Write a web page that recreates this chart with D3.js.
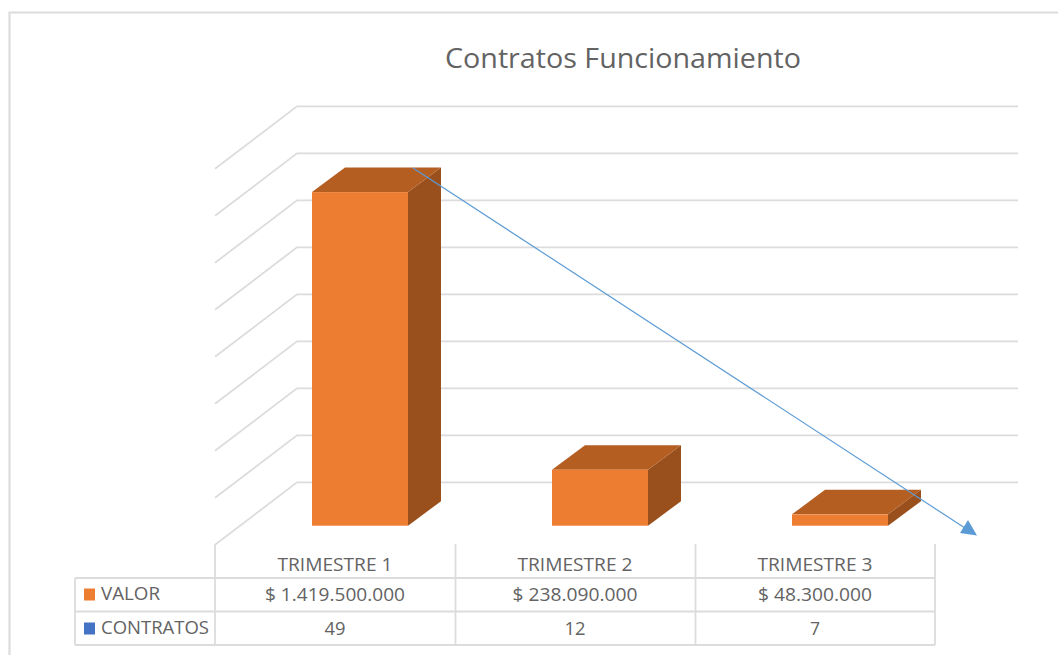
<!DOCTYPE html>
<html><head><meta charset="utf-8">
<script src="https://cdnjs.cloudflare.com/ajax/libs/d3/7.8.5/d3.min.js"></script>
<style>html,body{margin:0;padding:0;background:#fff}svg{display:block}text{font-family:"Open Sans",Lato,sans-serif;fill:#636363}</style>
</head><body><svg id="c" width="1058" height="655"></svg>
<script>
const chartTitle = "Contratos Funcionamiento";
const categories = ["TRIMESTRE 1","TRIMESTRE 2","TRIMESTRE 3"];
const valor = [1419500000,238090000,48300000];
const valorLabels = ["$ 1.419.500.000","$ 238.090.000","$ 48.300.000"];
const contratos = [49,12,7];
const gridTicks = [0,200,400,600,800,1000,1200,1400,1600].map(d=>d*1e6);
const seriesNames = ["VALOR","CONTRATOS"];
const seriesColors = ["#ed7d31","#4472c4"];

const svg = d3.select("#c");
const grid="#dcdcdc";
const depthX=33, depthY=24.5;
const yFront = d3.scaleLinear().domain([0,1600e6]).range([525.7,149.7]);
const yBack = v => yFront(v)-43.4;
const xFront = d3.scaleBand().domain(categories).range([240,960]).paddingInner(0.6).paddingOuter(0.3);
const xTable = d3.scaleBand().domain(categories).range([215,935]);

svg.append("path").attr("d","M1058,12.5H9.5V655").attr("fill","none").attr("stroke",grid).attr("stroke-width",2.2);

svg.selectAll("path.g").data(gridTicks).join("path").attr("class","g")
  .attr("fill","none").attr("stroke",grid).attr("stroke-width",1.8)
  .attr("d",d=>`M215,${yBack(d)+62.5}L297,${yBack(d)}H1018`);

const bars = svg.selectAll("g.b").data(categories).join("g").attr("class","b");
const fc = d3.color(seriesColors[0]);
bars.each(function(c,i){
  const g=d3.select(this), x0=xFront(c), w=xFront.bandwidth(), y0=yFront(0), y1=yFront(valor[i]);
  g.append("path").attr("fill","#9a501d").attr("d",`M${x0+w},${y1}l${depthX},${-depthY}V${y0-depthY}l${-depthX},${depthY}Z`);
  g.append("path").attr("fill","#b45e22").attr("d",`M${x0},${y1}l${depthX},${-depthY}h${w}l${-depthX},${depthY}Z`);
  g.append("rect").attr("x",x0).attr("y",y1).attr("width",w).attr("height",y0-y1).attr("fill",fc);
});

const rows=[578,611.5,645];
const tg=svg.append("g").attr("stroke",grid).attr("stroke-width",1.8).attr("fill","none");
rows.forEach(y=>tg.append("line").attr("x1",75).attr("x2",935).attr("y1",y).attr("y2",y));
tg.append("line").attr("x1",75).attr("x2",75).attr("y1",578).attr("y2",645);
[215,455.5,695.5,935].forEach(x=>tg.append("line").attr("x1",x).attr("x2",x).attr("y1",544).attr("y2",645));

const cx=c=>xTable(c)+xTable.bandwidth()/2;
const cell=(txt,x,y,anchor,w)=>svg.append("text").attr("x",x).attr("y",y).attr("text-anchor",anchor).attr("font-size",18)
  .attr("textLength",w).attr("lengthAdjust","spacingAndGlyphs").text(txt);
categories.forEach((c,i)=>{
  cell(c,cx(c),570.5,"middle",115);
  cell(valorLabels[i],cx(c),600.5,"middle",[140,125,114][i]);
  cell(contratos[i],cx(c),634.5,"middle",[21,21,10][i]);
});
seriesNames.forEach((s,i)=>{
  const y=[594,628][i];
  svg.append("rect").attr("x",84).attr("y",y-5.5).attr("width",11).attr("height",12).attr("fill",seriesColors[i]);
  cell(s,101,[599.5,634][i],"start",[59,108][i]);
});

svg.append("text").attr("x",623).attr("y",68).attr("text-anchor","middle").attr("font-size",27)
  .attr("textLength",356).attr("lengthAdjust","spacingAndGlyphs").text(chartTitle);

svg.append("line").attr("x1",413).attr("y1",168).attr("x2",968).attr("y2",530).attr("stroke","#5b9bd5").attr("stroke-width",1.2);
svg.append("path").attr("d","M977,535.5L960,533L968,520Z").attr("fill","#5b9bd5");
</script></body></html>
